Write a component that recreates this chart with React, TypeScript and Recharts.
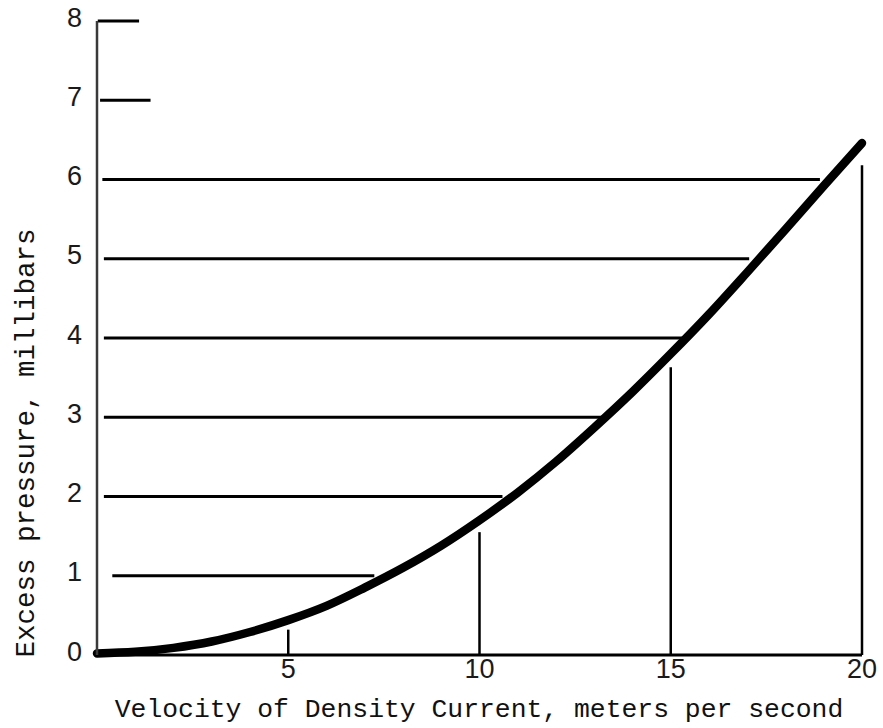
import React from "react";
import {
  ComposedChart,
  Line,
  XAxis,
  YAxis,
  ReferenceLine,
} from "recharts";

// Curve: velocity (m/s) vs excess pressure (mb)
const velocity = [0, 1, 2, 3, 4, 5, 6, 7, 8, 9, 10, 11, 12, 13, 14, 15, 16, 17, 18, 19, 20];
const pressure = [0.02, 0.04, 0.09, 0.17, 0.29, 0.44, 0.62, 0.85, 1.1, 1.38, 1.7, 2.05, 2.44, 2.87, 3.32, 3.8, 4.3, 4.83, 5.37, 5.92, 6.46];

// Horizontal rules drawn from the axis toward the curve
const ruleLevels = [1, 2, 3, 4, 5, 6, 7, 8];
const ruleStarts = [0.4, 0.18, 0.18, 0.18, 0.18, 0.14, 0.08, 0.02];
const ruleEnds = [7.25, 10.6, 13.25, 15.35, 17.05, 18.9, 1.4, 1.1];

// Vertical rules standing on the x axis
const markVelocities = [5, 10, 15, 20];
const markTops = [0.32, 1.55, 3.63, 6.18];

const xTicks = [5, 10, 15, 20];
const yTicks = [0, 1, 2, 3, 4, 5, 6, 7, 8];

const data = velocity.map((v, i) => ({ v, p: pressure[i] }));

const tickFont = { fontFamily: "Liberation Sans", fontSize: 27, fill: "#1a1a1a" };
const titleFont = "Liberation Mono";

export default function App() {
  return (
    <div style={{ position: "absolute", left: 0, top: 0, width: 883, height: 728, background: "#fff" }}>
      <ComposedChart
        width={883}
        height={728}
        data={data}
        margin={{ top: 21, right: 21, bottom: 13, left: 0 }}
      >
        <XAxis
          dataKey="v"
          type="number"
          domain={[0, 20]}
          ticks={xTicks}
          tickLine={false}
          tickSize={0}
          tickMargin={4}
          height={60}
          axisLine={{ stroke: "#000", strokeWidth: 3 }}
          tick={tickFont}
          label={{
            value: "Velocity of Density Current, meters per second",
            content: (props: any) => {
              const vb = props.viewBox;
              return (
                <text
                  x={479}
                  y={vb.y + 62}
                  textAnchor="middle"
                  fontFamily={titleFont}
                  fontSize={26.4}
                  fill="#111"
                >
                  Velocity of Density Current, meters per second
                </text>
              );
            },
          }}
        />
        <YAxis
          type="number"
          domain={[0, 8]}
          ticks={yTicks}
          width={97}
          tickLine={false}
          tickSize={0}
          tickMargin={15}
          axisLine={{ stroke: "#3a3a3a", strokeWidth: 2.5 }}
          tick={{ ...tickFont, dy: -4 }}
          label={{
            value: "Excess pressure, millibars",
            content: (props: any) => {
              const vb = props.viewBox;
              return (
                <text
                  x={26}
                  y={vb.y + 422}
                  textAnchor="middle"
                  dominantBaseline="central"
                  transform={`rotate(-90, 26, ${vb.y + 422})`}
                  fontFamily={titleFont}
                  fontSize={27.5}
                  fill="#111"
                >
                  Excess pressure, millibars
                </text>
              );
            },
          }}
        />
        {ruleLevels.map((lvl, i) => (
          <ReferenceLine
            key={`h${lvl}`}
            segment={[
              { x: ruleStarts[i], y: lvl },
              { x: ruleEnds[i], y: lvl },
            ]}
            stroke="#000"
            strokeWidth={3}
          />
        ))}
        {markVelocities.map((v, i) => (
          <ReferenceLine
            key={`v${v}`}
            segment={[
              { x: v, y: 0 },
              { x: v, y: markTops[i] },
            ]}
            stroke="#000"
            strokeWidth={2.5}
          />
        ))}
        <Line
          type="monotone"
          dataKey="p"
          stroke="#000"
          strokeWidth={8.5}
          strokeLinecap="round"
          dot={false}
          activeDot={false}
          isAnimationActive={false}
        />
      </ComposedChart>
    </div>
  );
}
